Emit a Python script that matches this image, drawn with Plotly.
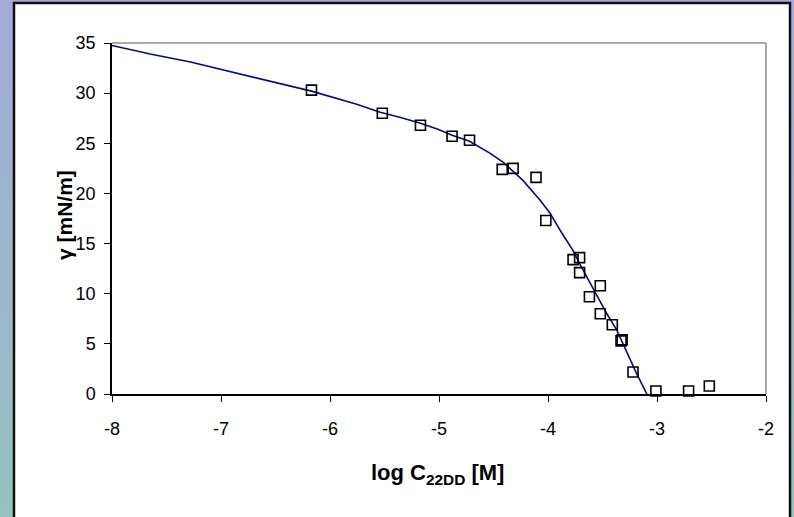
import plotly.graph_objects as go

# ---- data ----
x_data = [-6.17, -5.52, -5.17, -4.88, -4.72, -4.42, -4.32, -4.11, -4.02,
          -3.77, -3.71, -3.71, -3.52, -3.62, -3.52, -3.41, -3.32, -3.33,
          -3.22, -3.01, -2.71, -2.52]
y_data = [30.3, 28.0, 26.8, 25.7, 25.3, 22.4, 22.5, 21.6, 17.3,
          13.4, 13.6, 12.1, 10.8, 9.7, 8.0, 6.9, 5.4, 5.3,
          2.2, 0.3, 0.3, 0.8]
curve_x = [-8.0, -7.65, -7.28, -6.98, -6.58, -6.17, -5.755, -5.54, -5.36,
           -5.17, -5.01, -4.88, -4.72, -4.53, -4.41, -4.23, -4.07, -3.98,
           -3.87, -3.77, -3.71, -3.63, -3.55, -3.46, -3.37, -3.32, -3.28,
           -3.25, -3.19, -3.07]
curve_y = [34.75, 33.9, 33.1, 32.3, 31.3, 30.2, 28.9, 28.1, 27.6,
           27.0, 26.4, 25.8, 25.2, 24.0, 23.1, 21.3, 19.3, 18.0,
           16.0, 14.3, 13.0, 11.35, 9.7, 8.0, 6.4, 5.2, 4.3,
           3.4, 2.1, -0.5]
x_ticks = [-8, -7, -6, -5, -4, -3, -2]
y_ticks = [0, 5, 10, 15, 20, 25, 30, 35]

# ---- layout constants ----
W, H = 794, 517
ML, MR, MT, MB = 112, 28, 43, 123
PW, PH = W - ML - MR, H - MT - MB
FONT = "Arial, Liberation Sans, sans-serif"


def px_x(p):
    return (p - ML) / PW


def px_y(p):
    return (H - MB - p) / PH


fig = go.Figure()
fig.add_trace(go.Scatter(x=curve_x, y=curve_y, mode="lines",
                         line=dict(color="#0a0a80", width=1.6),
                         hoverinfo="skip", showlegend=False))
fig.add_trace(go.Scatter(x=x_data, y=y_data, mode="markers",
                         marker=dict(symbol="square-open", size=10,
                                     color="black", line=dict(width=1.6, color="black")),
                         cliponaxis=False, showlegend=False))

shapes = []
# gradient background bands (slide background)
n = 30
top = (163, 170, 217)
bot = (150, 194, 192)
for i in range(n):
    t = i / (n - 1)
    c = tuple(round(top[k] + (bot[k] - top[k]) * t) for k in range(3))
    y0 = i * H / n
    y1 = (i + 1) * H / n + 1
    shapes.append(dict(type="rect", xref="paper", yref="paper",
                       x0=px_x(-5), x1=px_x(W + 5), y0=px_y(y1), y1=px_y(y0),
                       fillcolor="rgb(%d,%d,%d)" % c, line=dict(width=0), layer="below"))
# white chart box with dark border
shapes.append(dict(type="rect", xref="paper", yref="paper",
                   x0=px_x(14), x1=px_x(790), y0=px_y(530), y1=px_y(3),
                   fillcolor="white", line=dict(color="#111111", width=2.5), layer="below"))
# grey top/right plot border
shapes.append(dict(type="line", xref="paper", yref="paper", x0=0, x1=1, y0=1, y1=1,
                   line=dict(color="#8c8c8c", width=1.5), layer="below"))
shapes.append(dict(type="line", xref="paper", yref="paper", x0=1, x1=1, y0=0, y1=1,
                   line=dict(color="#8c8c8c", width=1.5), layer="below"))

fig.update_layout(
    width=W, height=H,
    margin=dict(l=ML, r=MR, t=MT, b=MB, pad=0),
    paper_bgcolor="white", plot_bgcolor="rgba(0,0,0,0)",
    shapes=shapes,
    font=dict(family=FONT, size=18, color="black"),
    xaxis=dict(range=[-8, -2], tickvals=x_ticks, ticktext=[str(v) for v in x_ticks],
               showgrid=False, zeroline=False, showline=True, linecolor="black",
               linewidth=1.5, ticks="outside", ticklen=6, tickcolor="black",
               tickwidth=1.2, tickfont=dict(size=18), ticklabelstandoff=12),
    yaxis=dict(range=[0, 35], tickvals=y_ticks, ticktext=[str(v) for v in y_ticks],
               showgrid=False, zeroline=False, showline=True, linecolor="black",
               linewidth=1.5, ticks="outside", ticklen=6, tickcolor="black",
               tickwidth=1.2, tickfont=dict(size=18), ticklabelstandoff=5),
    annotations=[
        dict(text="<b>log C<sub>22DD</sub> [M]</b>", xref="paper", yref="paper",
             x=px_x(437), y=px_y(474), showarrow=False, xanchor="center", yanchor="middle",
             font=dict(size=22, family=FONT)),
        dict(text="<b>γ [mN/m]</b>", xref="paper", yref="paper",
             x=px_x(64), y=px_y(215), showarrow=False, textangle=-90,
             xanchor="center", yanchor="middle", font=dict(size=21, family=FONT)),
    ],
)

fig.write_html("out.html")
